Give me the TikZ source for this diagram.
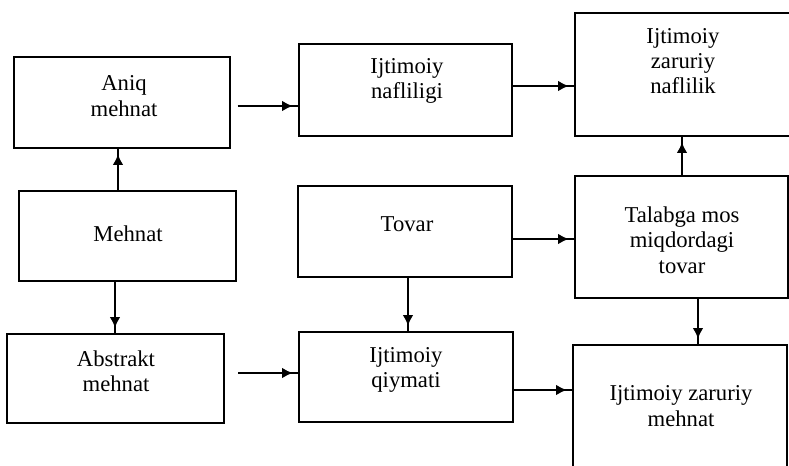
\documentclass[tikz,border=0pt]{standalone}
\usepackage{fontspec}
\setmainfont{Liberation Serif}
\usetikzlibrary{arrows.meta,decorations.markings,fit}
\tikzset{
  blok/.style={draw, line width=1.4pt, inner sep=0pt},
  yozuv/.style={align=center, font=\fontsize{17}{19}\selectfont},
  strelka/.style={draw, line width=1.3pt, postaction={decorate},
    decoration={markings, mark=at position -4pt with {\arrow{Latex[length=8pt,width=8pt]}}}}
}
\begin{document}
\begin{tikzpicture}[x=0.75pt, y=-0.75pt]
  \useasboundingbox (0,0) rectangle (789,465);
  \clip (0,0) rectangle (789,465);
  % bloklar
  \node[blok, fit={(14,57) (230,148)}] (aniq) {};
  \node[blok, fit={(299,44) (512,136)}] (nafl) {};
  \node[blok, fit={(575,13) (795,136)}] (zarnaf) {};
  \node[blok, fit={(19,191) (236,281)}] (mehnat) {};
  \node[blok, fit={(298,186) (512,277)}] (tovar) {};
  \node[blok, fit={(575,176) (788,298)}] (talab) {};
  \node[blok, fit={(7,334) (224,423)}] (abstr) {};
  \node[blok, fit={(299,332) (513,422)}] (qiymat) {};
  \node[blok, fit={(573,345) (787,480)}] (zarmeh) {};
  % yozuvlar
  \node[yozuv] (aniqT) at (124,96) {Aniq\\mehnat};
  \node[yozuv] (naflT) at (407,81) {Ijtimoiy\\nafliligi};
  \node[yozuv] (zarnafT) at (683,61) {Ijtimoiy\\zaruriy\\naflilik};
  \node[yozuv] (mehnatT) at (128,234) {Mehnat};
  \node[yozuv] (tovarT) at (407,224) {Tovar};
  \node[yozuv] (talabT) at (682,240) {Talabga mos\\miqdordagi\\tovar};
  \node[yozuv] (abstrT) at (116,371) {Abstrakt\\mehnat};
  \node[yozuv] (qiymatT) at (406,370) {Ijtimoiy\\qiymati};
  \node[yozuv] (zarmehT) at (681,406) {Ijtimoiy zaruriy\\mehnat};
  % yo'nalishlar
  \coordinate (h1) at (0,106);
  \coordinate (h2) at (0,86);
  \coordinate (h3) at (0,239);
  \coordinate (h4) at (0,373);
  \coordinate (h5) at (0,390);
  \coordinate (v1) at (118,0);
  \coordinate (v2) at (115,0);
  \coordinate (v3) at (408,0);
  \coordinate (v4) at (682,0);
  \coordinate (v5) at (698,0);
  \path[strelka] (mehnat.north -| v1) -- (aniq.south -| v1);
  \path[strelka] (mehnat.south -| v2) -- (abstr.north -| v2);
  \path[strelka, shorten <=5pt] (aniq.east |- h1) -- (nafl.west |- h1);
  \path[strelka] (nafl.east |- h2) -- (zarnaf.west |- h2);
  \path[strelka] (tovar.east |- h3) -- (talab.west |- h3);
  \path[strelka] (tovar.south -| v3) -- (qiymat.north -| v3);
  \path[strelka] (talab.north -| v4) -- (zarnaf.south -| v4);
  \path[strelka] (talab.south -| v5) -- (zarmeh.north -| v5);
  \path[strelka, shorten <=10pt] (abstr.east |- h4) -- (qiymat.west |- h4);
  \path[strelka] (qiymat.east |- h5) -- (zarmeh.west |- h5);
\end{tikzpicture}
\end{document}
